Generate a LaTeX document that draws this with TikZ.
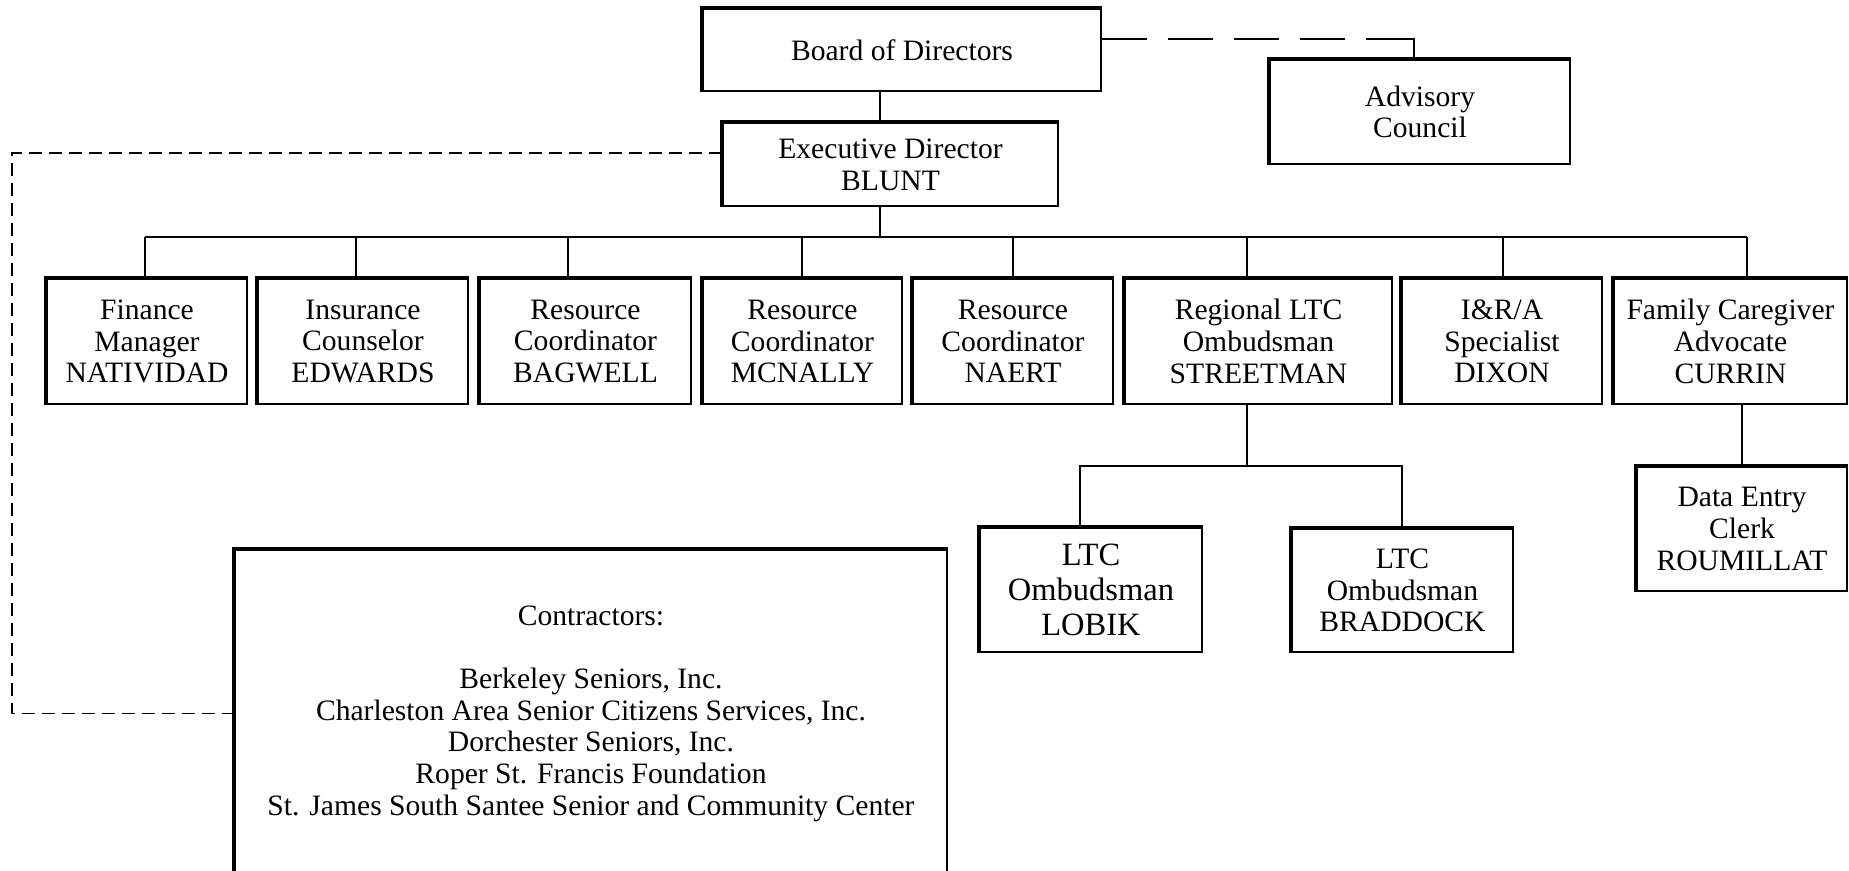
\documentclass[tikz,border=0pt]{standalone}
\usepackage{fontspec}
\setmainfont{Liberation Serif}
\usetikzlibrary{calc}
\tikzset{
    orgbox/.style={
        draw,
        line width=2pt,
        align=center,
        inner sep=0pt,
        font={\fontsize{29.6pt}{31.7pt}\selectfont}
    },
    topedge/.style={line width=4.5pt, line join=miter},
    orgline/.style={draw, line width=1.7pt},
    longdash/.style={orgline, dash pattern=on 45pt off 21pt on 45pt off 21pt on 45pt off 21pt on 45pt off 21pt on 72pt off 21pt},
    shortdash/.style={orgline, dash pattern=on 13pt off 7pt},
}

\begin{document}
\begin{tikzpicture}[x=1pt, y=-1pt]
    \path[clip] (0,0) rectangle (1849,870);

    % Board, council and director
    \node[orgbox, minimum width=398pt, minimum height=82pt]  (board) at (902,50)    {Board of Directors};
    \node[orgbox, minimum width=300pt, minimum height=104pt] (adv)   at (1420,112)  {Advisory\\Council};
    \node[orgbox, minimum width=335pt, minimum height=83pt]  (exec)  at (890.5,164.5) {Executive Director\\BLUNT};

    % Staff row
    \node[orgbox, minimum width=200pt, minimum height=125pt] (fin) at (147,341.5)    {Finance\\Manager\\NATIVIDAD};
    \node[orgbox, minimum width=210pt, minimum height=125pt] (ins) at (363,341.5)    {Insurance\\Counselor\\EDWARDS};
    \node[orgbox, minimum width=211pt, minimum height=125pt] (bag) at (585.5,341.5)  {Resource\\Coordinator\\BAGWELL};
    \node[orgbox, minimum width=199pt, minimum height=125pt] (mcn) at (802.5,341.5)  {Resource\\Coordinator\\MCNALLY};
    \node[orgbox, minimum width=200pt, minimum height=125pt] (nae) at (1013,341.5)   {Resource\\Coordinator\\NAERT};
    \node[orgbox, minimum width=267pt, minimum height=125pt] (str) at (1258.5,341.5) {Regional LTC\\Ombudsman\\STREETMAN};
    \node[orgbox, minimum width=200pt, minimum height=125pt] (dix) at (1502,341.5)   {I\&R/A\\Specialist\\DIXON};
    \node[orgbox, minimum width=233pt, minimum height=125pt] (cur) at (1730.5,341.5) {Family Caregiver\\Advocate\\CURRIN};

    % Lower level
    \node[orgbox, minimum width=222pt, minimum height=124pt,
          font={\fontsize{32.5pt}{35pt}\selectfont}]       (lob)  at (1091,590)    {LTC\\Ombudsman\\LOBIK};
    \node[orgbox, minimum width=221pt, minimum height=123pt] (brad) at (1402.5,590.5) {LTC\\Ombudsman\\BRADDOCK};
    \node[orgbox, minimum width=210pt, minimum height=124pt] (rou)  at (1742,529)    {Data Entry\\Clerk\\ROUMILLAT};

    \node[orgbox, minimum width=712pt, minimum height=327pt] (contr) at (591,713.5)
        {Contractors:\\[31.7pt]Berkeley Seniors, Inc.\\Charleston Area Senior Citizens Services, Inc.\\Dorchester Seniors, Inc.\\Roper St. Francis Foundation\\St. James South Santee Senior and Community Center};

    % Heavy top and left edges
    \foreach \n in {board,adv,exec,fin,ins,bag,mcn,nae,str,dix,cur,lob,brad,rou,contr}
        \draw[topedge] (\n.south west) -- (\n.north west) -- (\n.north east);

    % Trunk and bus
    \coordinate (trunk) at (880,237);
    \draw[orgline] (board.south -| trunk) -- (exec.north -| trunk);
    \draw[orgline] (exec.south -| trunk) -- (trunk);
    \foreach \n/\x in {fin/145,ins/356,bag/568,mcn/802,nae/1013,str/1247,dix/1503,cur/1747} {
        \coordinate (d-\n) at (\x,237);
        \draw[orgline] (d-\n) -- (d-\n |- \n.north);
    }
    \draw[orgline] (d-fin) -- (d-cur);

    % Ombudsman branch
    \coordinate (sub)  at (1247,466);
    \coordinate (subL) at (1080,466);
    \coordinate (subR) at (1402,466);
    \draw[orgline] (str.south -| sub) -- (sub);
    \draw[orgline] (subL |- lob.north) -- (subL) -- (subR) -- (subR |- brad.north);
    \draw[orgline] (rou.north |- cur.south) -- (rou.north);

    % Dashed links
    \coordinate (advtop) at (1414,39);
    \draw[longdash] (board.east |- advtop) -- (advtop) -- (advtop |- adv.north);
    \coordinate (rail) at (12,153);
    \draw[shortdash] (exec.west |- rail) -- (rail) -- (rail |- contr.west) -- (contr.west);
\end{tikzpicture}
\end{document}
